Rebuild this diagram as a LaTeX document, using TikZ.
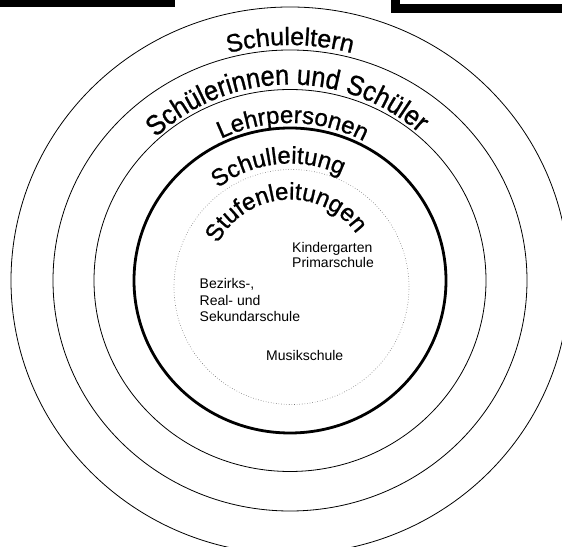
\documentclass[tikz,border=0pt]{standalone}
\usepackage{fontspec}
\setmainfont{Liberation Sans}
\newfontfamily\ringfont[FakeBold=0.9]{Liberation Sans}
\newfontfamily\narrowringfont[FakeBold=0.9, FakeStretch=0.9]{Liberation Sans}
\usetikzlibrary{decorations.text}

\begin{document}
\begin{tikzpicture}[x=1pt,y=1pt]
\tikzstyle{ring}=[draw, line width=0.8pt]
\tikzstyle{boldring}=[draw, line width=2.8pt]
\tikzstyle{dotring}=[draw=black!55, dotted, line width=0.6pt]
\tikzstyle{school}=[inner sep=0pt, anchor=north west, align=left, text=black]
\tikzset{arclabel/.style 2 args={decorate, decoration={text along path, text align=center,
  text={|\ringfont\fontsize{#1}{#1}\selectfont|#2}}}}

\useasboundingbox (0,0) rectangle (562,546);
\clip (0,0) rectangle (562,546);
\coordinate (c) at (290,265.5);
\coordinate (ci) at (291.5,259);

% bars at the top edge
\fill[black] (0,539) rectangle (175,546);
\fill[black] (391,533.3) rectangle (562,546);
\fill[white] (400,542) rectangle (562,546);

% rings
\draw[ring] (c) ellipse [x radius=279, y radius=273.5];
\draw[ring] (c) ellipse [x radius=237, y radius=230.5];
\draw[ring] (c) ellipse [x radius=196, y radius=191];
\draw[boldring] (c) ellipse [x radius=156, y radius=152.5];
\draw[dotring] (ci) circle [radius=117.5];

% ring labels
\path[arclabel={25}{Schuleltern}] ([shift={(180:235.5)}]c) arc [start angle=180, end angle=0, radius=235.5];
\path[decorate, decoration={text along path, text align=center,
  text={|\narrowringfont\fontsize{28}{28}\selectfont|Schülerinnen und Schüler}}]
  ([shift={(181:196)}]c) arc [start angle=181, end angle=1, radius=196];
\path[arclabel={24}{Lehrpersonen}] ([shift={(179:157.5)}]c) arc [start angle=179, end angle=-1, radius=157.5];
\path[arclabel={24}{Schulleitung}] ([shift={(186:117)}]c) arc [start angle=186, end angle=6, radius=117];
\path[arclabel={24}{Stufenleitungen}] ([shift={(184:81)}]c) arc [start angle=184, end angle=4, radius=81];

% schools
\node[school, font=\fontsize{14}{15}\selectfont] (kiga) at (292,304.2) {Kindergarten\\Primarschule};
\node[school, font=\fontsize{14}{16.7}\selectfont] (bezirk) at (199.5,268) {Bezirks-,\\Real- und\\Sekundarschule};
\node[school, font=\fontsize{14}{16.7}\selectfont] (musik) at (266,196.2) {Musikschule};
\end{tikzpicture}
\end{document}
